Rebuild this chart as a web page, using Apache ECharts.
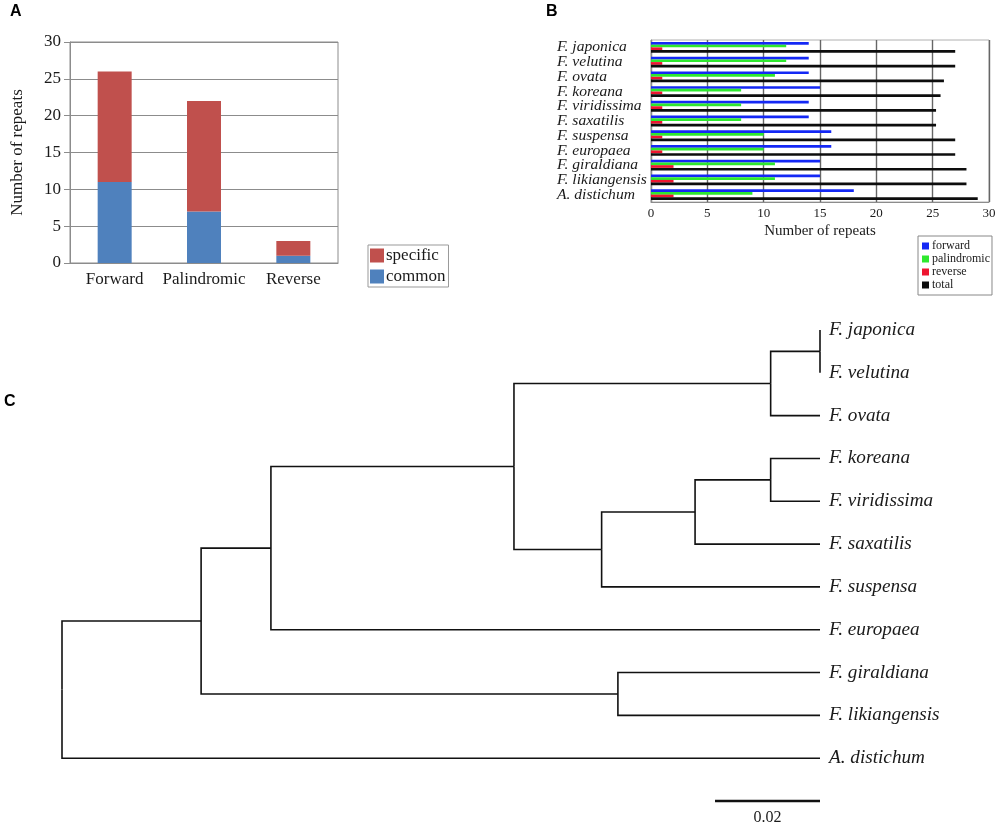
<!DOCTYPE html>
<html>
<head>
<meta charset="utf-8">
<title>Repeats and phylogeny</title>
<script src="https://cdn.jsdelivr.net/npm/echarts@6/dist/echarts.min.js"></script>
<style>
  html, body { margin: 0; padding: 0; background: #fff; }
  #chart { width: 1000px; height: 828px; }
</style>
</head>
<body>
<div id="chart"></div>
<script>
// panel A: repeat types, stacked
const repeatTypes = ['Forward', 'Palindromic', 'Reverse'];
const commonCounts = [11, 7, 1];
const specificCounts = [15, 15, 2];

// panel B: repeats per species
const species = ['F. japonica', 'F. velutina', 'F. ovata', 'F. koreana', 'F. viridissima',
    'F. saxatilis', 'F. suspensa', 'F. europaea', 'F. giraldiana', 'F. likiangensis', 'A. distichum'];
const forwardCounts = [14, 14, 14, 15, 14, 14, 16, 16, 15, 15, 18];
const palindromicCounts = [12, 12, 11, 8, 8, 8, 10, 10, 11, 11, 9];
const reverseCounts = [1, 1, 1, 1, 1, 1, 1, 1, 2, 2, 2];
const totalCounts = [27, 27, 26, 25.7, 25.3, 25.3, 27, 27, 28, 28, 29];

// panel C: tree edges [node, parent, depth from root in substitutions]
const treeEdges = [
    ['n1', 'root', 0.0265],
    ['A. distichum', 'root', 0.1444],
    ['n2', 'n1', 0.0398],
    ['n9', 'n1', 0.1059],
    ['n3', 'n2', 0.0861],
    ['F. europaea', 'n2', 0.1444],
    ['n4', 'n3', 0.1350],
    ['n6', 'n3', 0.1028],
    ['n5', 'n4', 0.1444],
    ['F. ovata', 'n4', 0.1444],
    ['F. japonica', 'n5', 0.1444],
    ['F. velutina', 'n5', 0.1444],
    ['n7', 'n6', 0.1206],
    ['F. suspensa', 'n6', 0.1444],
    ['n8', 'n7', 0.1350],
    ['F. saxatilis', 'n7', 0.1444],
    ['F. koreana', 'n8', 0.1444],
    ['F. viridissima', 'n8', 0.1444],
    ['F. giraldiana', 'n9', 0.1444],
    ['F. likiangensis', 'n9', 0.1444]
];
const treeDepth = 0.1444;
const scaleLength = 0.02;

const serif = 'Liberation Serif';
const ink = '#1a1a1a';

// node depth and vertical position
const depthOf = { root: 0 };
const childrenOf = {};
treeEdges.forEach(([node, parent, depth]) => {
    depthOf[node] = depth;
    (childrenOf[parent] = childrenOf[parent] || []).push(node);
});
const rowOf = {};
function nodeRow(node) {
    if (rowOf[node] !== undefined) return rowOf[node];
    const kids = childrenOf[node];
    if (!kids) {
        rowOf[node] = species.indexOf(node);
    } else {
        const rows = kids.map(nodeRow);
        rowOf[node] = (Math.min(...rows) + Math.max(...rows)) / 2;
    }
    return rowOf[node];
}
nodeRow('root');

const branchData = treeEdges.map(([node, parent]) =>
    [depthOf[parent], rowOf[parent], depthOf[node], rowOf[node]]);

const chart = echarts.init(document.getElementById('chart'));

const option = {
    backgroundColor: '#fff',
    animation: false,
    textStyle: { fontFamily: serif, color: ink },
    graphic: [
        { type: 'text', left: 10, top: 4, style: { text: 'A', font: 'bold 16px Liberation Sans', fill: '#000' } },
        { type: 'text', left: 546, top: 4, style: { text: 'B', font: 'bold 16px Liberation Sans', fill: '#000' } },
        { type: 'text', left: 4, top: 394, style: { text: 'C', font: 'bold 16px Liberation Sans', fill: '#000' } }
    ],
    legend: [
        {
            data: ['specific', 'common'],
            orient: 'vertical',
            left: 368,
            top: 245,
            itemWidth: 14,
            itemHeight: 14,
            itemGap: 4,
            padding: [2, 3, 2, 2],
            borderColor: '#999',
            borderWidth: 1,
            icon: 'rect',
            textStyle: { fontFamily: serif, fontSize: 17, color: ink, padding: [0, 0, 0, -3] }
        },
        {
            data: ['forward', 'palindromic', 'reverse', 'total'],
            orient: 'vertical',
            left: 918,
            top: 236,
            itemWidth: 7,
            itemHeight: 7,
            itemGap: 1,
            padding: [4, 2, 4, 4],
            borderColor: '#888',
            borderWidth: 1,
            icon: 'rect',
            textStyle: { fontFamily: serif, fontSize: 12, color: ink, padding: [0, 0, 0, -2] }
        }
    ],
    grid: [
        { left: 70, top: 42, width: 268, height: 221, show: true, borderColor: '#8c8c8c', borderWidth: 1 },
        { left: 651, top: 40, width: 338, height: 162, show: true, borderColor: '#b0b0b0', borderWidth: 1 },
        { left: 62, top: 330, width: 758, height: 471 }
    ],
    xAxis: [
        {
            gridIndex: 0,
            type: 'category',
            data: repeatTypes,
            axisLine: { lineStyle: { color: '#8c8c8c' } },
            axisTick: { length: 9, lineStyle: { color: '#8c8c8c' } },
            axisLabel: { fontFamily: serif, fontSize: 17, color: ink, margin: 8, interval: 0 }
        },
        {
            gridIndex: 1,
            type: 'value',
            min: 0,
            max: 30,
            interval: 5,
            name: 'Number of repeats',
            nameLocation: 'middle',
            nameGap: 22,
            nameTextStyle: { fontFamily: serif, fontSize: 15, color: ink },
            axisLine: { show: true, lineStyle: { color: '#8c8c8c' } },
            axisTick: { show: false },
            axisLabel: { fontFamily: serif, fontSize: 13, color: ink, margin: 5 },
            splitLine: { lineStyle: { color: '#666', width: 1.4 } }
        },
        {
            gridIndex: 2,
            type: 'value',
            min: 0,
            max: treeDepth,
            show: false
        }
    ],
    yAxis: [
        {
            gridIndex: 0,
            type: 'value',
            min: 0,
            max: 30,
            interval: 5,
            name: 'Number of repeats',
            nameLocation: 'middle',
            nameGap: 44,
            nameTextStyle: { fontFamily: serif, fontSize: 17, color: ink },
            axisLine: { show: true, lineStyle: { color: '#8c8c8c' } },
            axisTick: { show: true, length: 6, lineStyle: { color: '#8c8c8c' } },
            axisLabel: { fontFamily: serif, fontSize: 17, color: ink, margin: 9 },
            splitLine: { lineStyle: { color: '#8c8c8c' } }
        },
        {
            gridIndex: 1,
            type: 'category',
            data: species,
            inverse: true,
            axisLine: { lineStyle: { color: '#8c8c8c' } },
            axisTick: { length: 5, lineStyle: { color: '#8c8c8c' } },
            axisLabel: {
                fontFamily: serif, fontStyle: 'italic', fontSize: 15.6, color: ink,
                align: 'left', margin: 94, interval: 0, padding: [2, 0, 0, 0]
            }
        },
        {
            gridIndex: 2,
            type: 'value',
            min: 0,
            max: 11,
            interval: 1,
            inverse: true,
            position: 'right',
            axisLine: { show: false },
            axisTick: { show: false },
            splitLine: { show: false },
            axisLabel: {
                fontFamily: serif, fontStyle: 'italic', fontSize: 19.2, color: ink, margin: 9,
                padding: [6, 0, 0, 0],
                formatter: v => species[v] || ''
            }
        }
    ],
    series: [
        {
            name: 'common', type: 'bar', stack: 'a', xAxisIndex: 0, yAxisIndex: 0,
            data: commonCounts, barWidth: 34, itemStyle: { color: '#4F81BD' }
        },
        {
            name: 'specific', type: 'bar', stack: 'a', xAxisIndex: 0, yAxisIndex: 0,
            data: specificCounts, barWidth: 34, itemStyle: { color: '#C0504D' }
        },
        {
            name: 'forward', type: 'bar', xAxisIndex: 1, yAxisIndex: 1,
            data: forwardCounts, barWidth: 2.7, barGap: '0%', itemStyle: { color: '#1428f5' }
        },
        {
            name: 'palindromic', type: 'bar', xAxisIndex: 1, yAxisIndex: 1,
            data: palindromicCounts, barWidth: 2.7, barGap: '0%', itemStyle: { color: '#2ee82e' }
        },
        {
            name: 'reverse', type: 'bar', xAxisIndex: 1, yAxisIndex: 1,
            data: reverseCounts, barWidth: 2.7, barGap: '0%', itemStyle: { color: '#ee1530' }
        },
        {
            name: 'total', type: 'bar', xAxisIndex: 1, yAxisIndex: 1,
            data: totalCounts, barWidth: 2.7, barGap: '0%', itemStyle: { color: '#0d0d0d' }
        },
        {
            name: 'tree', type: 'custom', xAxisIndex: 2, yAxisIndex: 2,
            data: branchData,
            clip: false,
            renderItem: (params, api) => {
                const p = api.coord([api.value(0), api.value(1)]);
                const k = api.coord([api.value(0), api.value(3)]);
                const c = api.coord([api.value(2), api.value(3)]);
                return {
                    type: 'polyline',
                    shape: { points: [p, k, c] },
                    style: { stroke: '#111', lineWidth: 1.6, fill: null }
                };
            }
        },
        {
            name: 'scale', type: 'custom', xAxisIndex: 2, yAxisIndex: 2,
            data: [[treeDepth - scaleLength, 11, treeDepth, 11]],
            clip: false,
            renderItem: (params, api) => {
                const a = api.coord([api.value(0), api.value(1)]);
                const b = api.coord([api.value(2), api.value(3)]);
                return {
                    type: 'group',
                    children: [
                        { type: 'line', shape: { x1: a[0], y1: a[1], x2: b[0], y2: b[1] },
                          style: { stroke: '#111', lineWidth: 2.4 } },
                        { type: 'text', x: (a[0] + b[0]) / 2, y: a[1] + 9,
                          style: { text: String(scaleLength), fontFamily: serif, fontSize: 16,
                                   fill: ink, align: 'center', verticalAlign: 'top' } }
                    ]
                };
            }
        }
    ]
};

chart.setOption(option);
window.addEventListener('resize', () => chart.resize());
</script>
</body>
</html>
